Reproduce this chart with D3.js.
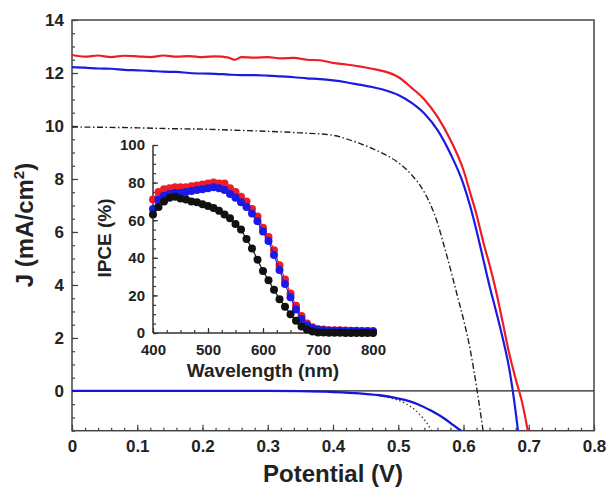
<!DOCTYPE html>
<html><head><meta charset="utf-8">
<script src="https://cdn.jsdelivr.net/npm/d3@7/dist/d3.min.js"></script>
<style>
html,body{margin:0;padding:0;background:#fff;}
svg{display:block;font-family:"Liberation Sans",Arial,sans-serif;font-weight:bold;}
</style></head>
<body>
<script>
// ---- Main J–V data ----
const redV = [0,0.02,0.04,0.06,0.08,0.10,0.12,0.14,0.16,0.18,0.20,0.22,0.24,0.25,0.26,0.28,0.30,0.32,0.34,0.36,0.38,0.40,0.42,0.44,0.46,0.48,0.50,0.52,0.54,0.56,0.58,0.60,0.61,0.62,0.63,0.64,0.65,0.66,0.67,0.68,0.69,0.70];
const redJ = [12.68,12.62,12.66,12.60,12.65,12.63,12.60,12.66,12.62,12.64,12.60,12.63,12.58,12.50,12.60,12.58,12.60,12.55,12.57,12.50,12.48,12.38,12.32,12.25,12.16,12.05,11.85,11.45,11.00,10.35,9.47,8.33,7.50,6.65,5.65,4.75,3.75,2.60,1.42,0.45,-0.45,-1.70];

const blueV = [0,0.02,0.04,0.06,0.08,0.10,0.12,0.14,0.16,0.18,0.20,0.22,0.24,0.26,0.28,0.30,0.32,0.34,0.36,0.38,0.40,0.42,0.44,0.46,0.48,0.50,0.52,0.54,0.56,0.58,0.60,0.61,0.62,0.63,0.64,0.65,0.66,0.67,0.68,0.684];
const blueJ = [12.22,12.20,12.17,12.16,12.12,12.10,12.08,12.05,12.04,12.00,11.98,11.97,11.94,11.92,11.92,11.90,11.87,11.84,11.80,11.77,11.72,11.65,11.56,11.47,11.35,11.17,10.88,10.47,9.85,8.95,7.80,7.00,6.05,5.00,3.95,3.00,2.00,0.85,-0.80,-1.60];

const dashV = [0,0.05,0.10,0.15,0.20,0.25,0.30,0.35,0.40,0.42,0.44,0.46,0.48,0.50,0.52,0.54,0.55,0.56,0.57,0.58,0.59,0.60,0.61,0.62,0.63];
const dashJ = [9.96,9.95,9.93,9.90,9.88,9.84,9.80,9.74,9.65,9.52,9.35,9.15,8.92,8.62,8.17,7.50,7.00,6.35,5.50,4.60,3.65,2.70,1.60,0.15,-1.50];

const darkBlueV = [0,0.10,0.20,0.30,0.35,0.40,0.44,0.47,0.49,0.51,0.53,0.55,0.57,0.585,0.597];
const darkBlueJ = [0,0,0,0,-0.01,-0.04,-0.09,-0.16,-0.23,-0.34,-0.50,-0.74,-1.03,-1.30,-1.52];

const dotV = [0,0.10,0.20,0.30,0.40,0.44,0.47,0.49,0.51,0.525,0.537,0.545,0.551];
const dotJ = [0,0,0,0,-0.04,-0.09,-0.17,-0.28,-0.46,-0.70,-1.00,-1.25,-1.50];

const xTicks = [0,0.1,0.2,0.3,0.4,0.5,0.6,0.7,0.8];
const xTickLabels = ["0","0.1","0.2","0.3","0.4","0.5","0.6","0.7","0.8"];
const yTicks = [0,2,4,6,8,10,12,14];
const yTickLabels = ["0","2","4","6","8","10","12","14"];

// ---- Inset IPCE data ----
const wavelength = [400,410,420,430,440,450,460,470,480,490,500,510,520,530,540,550,560,570,580,590,600,610,620,630,640,650,660,670,680,690,700,710,720,730,740,750,760,770,780,790,800];
const ipceRed =   [71,75,76.5,77,77.5,77.5,77.5,78,78.5,79,79.5,80,79.5,79.5,77,75,72.5,70,66,62,56,51,44,36,28.5,21,14.5,9,5,3,2,1.8,1.5,1.5,1.5,1.3,1.2,1.2,1.1,1,1];
const ipceBlue =  [66,71,73,74,74.5,74.5,75,75.5,76,76.5,77,77.5,77,76,74,72,69.5,67,63.5,59.5,54,49,41.5,33.5,26,19,12.5,7.5,4,2.5,1.8,1.5,1.3,1.2,1.2,1.1,1,1,0.9,0.9,0.8];
const ipceBlack = [63,67,70,72,72.5,71.5,71,70,69.5,68.5,67.5,66.5,65,63,61,58,55,50,45,39,33,28,23,18,14,10,6.5,3.5,1.8,0.8,0.3,0.2,0.1,0.1,0.1,0,0,0,0,0,0];
const insetXTicks = [400,500,600,700,800];
const insetYTicks = [0,20,40,60,80,100];

// ---- Drawing ----
const W = 609, H = 490;
const svg = d3.select("body").append("svg").attr("width", W).attr("height", H);

const x = d3.scaleLinear().domain([0, 0.8]).range([72, 594]);
const y = d3.scaleLinear().domain([-1.5, 14]).range([430.7, 20]);

svg.append("defs").append("clipPath").attr("id","clipMain")
  .append("rect").attr("x",72).attr("y",20).attr("width",522).attr("height",410.7);

const frameColor = "#444";
const FONT = "'Liberation Sans',Arial,sans-serif";

const xMinor = d3.range(0, 0.8001, 0.02);
const yMinor = d3.range(-1.5, 14.001, 0.5);

const gx = svg.append("g").attr("transform", `translate(0,${y(-1.5)})`);
gx.call(d3.axisBottom(x).tickValues(xMinor).tickSize(-3).tickFormat(""));
gx.select(".domain").remove();
const gx2 = svg.append("g").attr("transform", `translate(0,${y(-1.5)})`);
gx2.call(d3.axisBottom(x).tickValues(xTicks).tickSize(-6).tickPadding(9)
  .tickFormat((d,i) => xTickLabels[i]));
gx2.select(".domain").remove();
[gx,gx2].forEach(g=>{g.selectAll("line").attr("stroke",frameColor).attr("stroke-width",1.2);});
gx2.selectAll("text").attr("font-size",17).attr("font-weight","bold").attr("fill","#222").attr("font-family",FONT);

const gy = svg.append("g").attr("transform", `translate(${x(0)},0)`);
gy.call(d3.axisLeft(y).tickValues(yMinor).tickSize(-3).tickFormat(""));
gy.select(".domain").remove();
const gy2 = svg.append("g").attr("transform", `translate(${x(0)},0)`);
gy2.call(d3.axisLeft(y).tickValues(yTicks).tickSize(-6).tickPadding(8)
  .tickFormat((d,i) => yTickLabels[i]));
gy2.select(".domain").remove();
[gy,gy2].forEach(g=>{g.selectAll("line").attr("stroke",frameColor).attr("stroke-width",1.2);});
gy2.selectAll("text").attr("font-size",17).attr("font-weight","bold").attr("fill","#222").attr("font-family",FONT);

// zero line
svg.append("line").attr("x1",x(0)).attr("x2",x(0.8)).attr("y1",y(0)).attr("y2",y(0))
  .attr("stroke","#222").attr("stroke-width",1.2);

// frame
svg.append("rect").attr("x",x(0)).attr("y",y(14)).attr("width",x(0.8)-x(0)).attr("height",y(-1.5)-y(14))
  .attr("fill","none").attr("stroke",frameColor).attr("stroke-width",1.5);

const line = d3.line().x(d=>x(d[0])).y(d=>y(d[1])).curve(d3.curveMonotoneX);
const plot = svg.append("g").attr("clip-path","url(#clipMain)");
function drawCurve(vs, js, color, width, dash){
  const p = plot.append("path").datum(vs.map((v,i)=>[v,js[i]]))
    .attr("d", line).attr("fill","none").attr("stroke",color).attr("stroke-width",width);
  if (dash) p.attr("stroke-dasharray", dash);
}
drawCurve(dotV, dotJ, "#333", 1.3, "1.5,2.5");
drawCurve(darkBlueV, darkBlueJ, "#1515d8", 2.3);
drawCurve(dashV, dashJ, "#222", 1.4, "6,2.5,1.5,2.5");
drawCurve(blueV, blueJ, "#1a1ae0", 2.2);
drawCurve(redV, redJ, "#ee1c24", 2.2);

// axis titles
svg.append("text").attr("x", 333).attr("y", 482).attr("text-anchor","middle")
  .attr("font-size",24).attr("fill","#222").text("Potential (V)");
const jl = svg.append("text").attr("transform","translate(33,225) rotate(-90)")
  .attr("text-anchor","middle").attr("font-size",24).attr("fill","#222");
jl.append("tspan").text("J (mA/cm");
jl.append("tspan").attr("font-size",15).attr("dy",-9).text("2");
jl.append("tspan").attr("dy",9).text(")");

// ---- Inset ----
const ix = d3.scaleLinear().domain([400, 800]).range([153, 373]);
const iy = d3.scaleLinear().domain([0, 100]).range([333, 145]);
const inset = svg.append("g");

const ixMinor = d3.range(400, 800.1, 25);
const iyMinor = d3.range(0, 100.1, 5);
const igx = inset.append("g").attr("transform",`translate(0,${iy(0)})`);
igx.call(d3.axisBottom(ix).tickValues(ixMinor).tickSize(-3).tickFormat(""));
igx.select(".domain").remove();
const igx2 = inset.append("g").attr("transform",`translate(0,${iy(0)})`);
igx2.call(d3.axisBottom(ix).tickValues(insetXTicks).tickSize(-5).tickPadding(11).tickFormat(d3.format("d")));
igx2.select(".domain").remove();
const igy = inset.append("g").attr("transform",`translate(${ix(400)},0)`);
igy.call(d3.axisLeft(iy).tickValues(iyMinor).tickSize(-3).tickFormat(""));
igy.select(".domain").remove();
const igy2 = inset.append("g").attr("transform",`translate(${ix(400)},0)`);
igy2.call(d3.axisLeft(iy).tickValues(insetYTicks).tickSize(-5).tickPadding(8).tickFormat(d3.format("d")));
igy2.select(".domain").remove();
[igx,igx2,igy,igy2].forEach(g=>g.selectAll("line").attr("stroke","#333").attr("stroke-width",1.2));
[igx2,igy2].forEach(g=>g.selectAll("text").attr("font-size",15).attr("font-weight","bold").attr("fill","#222").attr("font-family",FONT));
inset.append("line").attr("x1",ix(400)).attr("x2",ix(800)).attr("y1",iy(0)).attr("y2",iy(0))
  .attr("stroke","#333").attr("stroke-width",1.5);
inset.append("line").attr("x1",ix(400)).attr("x2",ix(400)).attr("y1",iy(0)).attr("y2",iy(100))
  .attr("stroke","#333").attr("stroke-width",1.5);

const iline = d3.line().x(d=>ix(d[0])).y(d=>iy(d[1]));
function drawSeries(vals, color){
  const data = wavelength.map((w,i)=>[w, vals[i]]);
  inset.append("path").datum(data).attr("d", iline).attr("fill","none")
    .attr("stroke",color).attr("stroke-width",1.2);
  inset.append("g").selectAll("circle").data(data).join("circle")
    .attr("cx",d=>ix(d[0])).attr("cy",d=>iy(d[1])).attr("r",4).attr("fill",color);
}
drawSeries(ipceRed, "#ee1c24");
drawSeries(ipceBlue, "#1a1ae8");
drawSeries(ipceBlack, "#111");

inset.append("text").attr("x",263).attr("y",377).attr("text-anchor","middle")
  .attr("font-size",19).attr("fill","#222").text("Wavelength (nm)");
inset.append("text").attr("transform","translate(111,238) rotate(-90)")
  .attr("text-anchor","middle").attr("font-size",19).attr("fill","#222").text("IPCE (%)");
</script>
</body></html>
